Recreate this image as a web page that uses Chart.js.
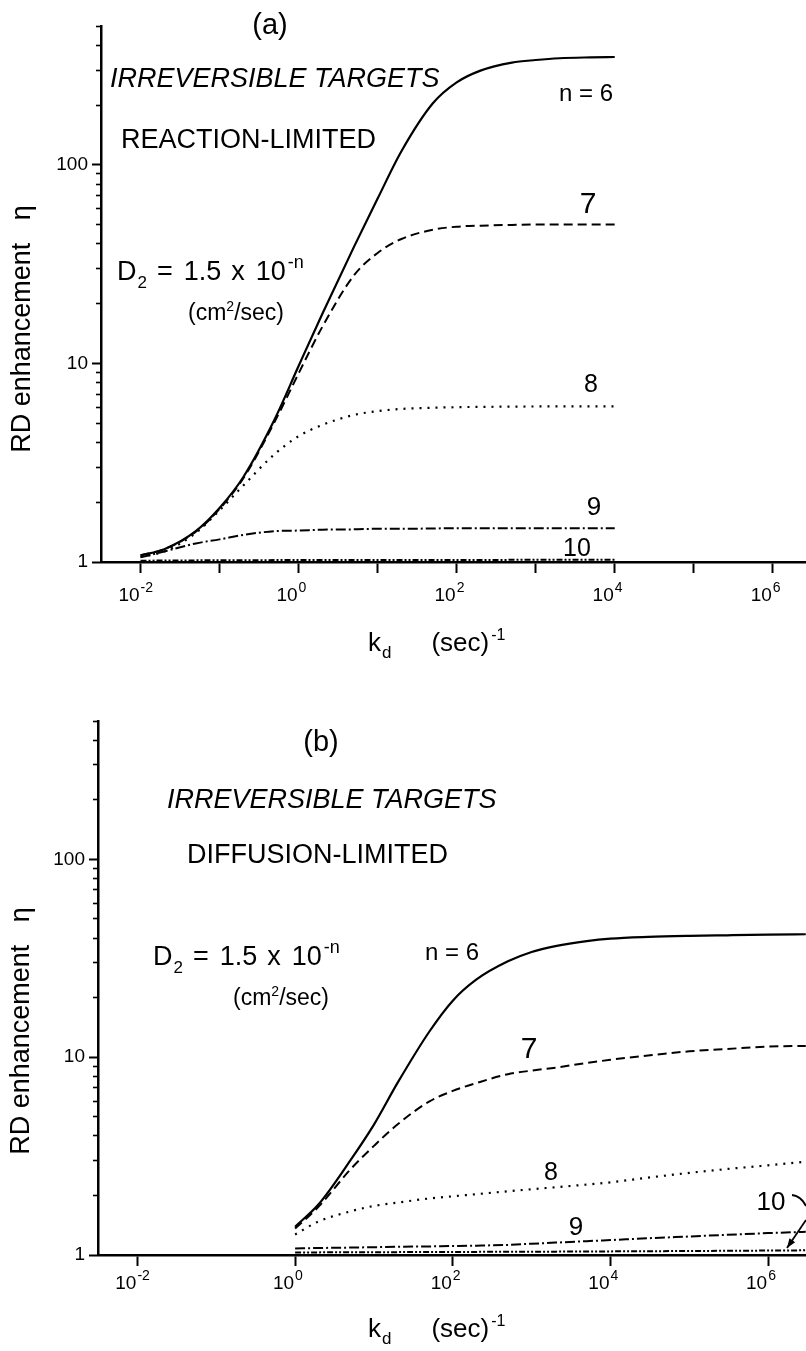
<!DOCTYPE html>
<html>
<head>
<meta charset="utf-8">
<script src="https://cdn.jsdelivr.net/npm/chart.js@4.4.1/dist/chart.umd.min.js"></script>
<style>
  html, body { margin: 0; padding: 0; background: #fff; }
  canvas { display: block; }
</style>
</head>
<body>
<canvas id="panelA" width="806" height="680"></canvas>
<canvas id="panelB" width="806" height="671"></canvas>
<script>
// (a) reaction-limited, values
const kA = [0.01, 0.02, 0.05, 0.1, 0.2, 0.5, 1, 2, 5, 10, 20, 50, 100, 200, 500, 1000, 2000, 5000, 10000];
const etaA6 = [1.08, 1.16, 1.43, 1.87, 2.68, 5.25, 9.7, 17.8, 38.5, 67.6, 117, 204, 260, 298, 327, 337, 344, 347.5, 349];
const etaA7 = [1.08, 1.16, 1.42, 1.85, 2.64, 5.1, 8.9, 15.3, 27.7, 36, 42.3, 47.1, 48.8, 49.4, 49.8, 50, 50, 50, 50];
const etaA8 = [1.06, 1.13, 1.40, 1.82, 2.43, 3.5, 4.3, 4.9, 5.5, 5.75, 5.9, 5.98, 6.02, 6.04, 6.06, 6.07, 6.08, 6.08, 6.08];
const etaA9 = [1.055, 1.13, 1.24, 1.30, 1.37, 1.43, 1.44, 1.455, 1.46, 1.47, 1.47, 1.475, 1.48, 1.48, 1.48, 1.48, 1.48, 1.48, 1.48];
const etaA10 = [1.015, 1.017, 1.019, 1.02, 1.021, 1.022, 1.022, 1.023, 1.023, 1.023, 1.024, 1.024, 1.024, 1.024, 1.025, 1.025, 1.025, 1.025, 1.025];

// (b) diffusion-limited
const kB = [1, 2, 5, 10, 20, 50, 100, 200, 500, 1000, 2000, 5000, 1e4, 3e4, 1e5, 3e5, 1e6, 3e6];
const etaB6 = [1.39, 1.81, 3.0, 4.56, 7.43, 13.4, 19.3, 24.7, 30.5, 34.0, 36.4, 38.6, 39.7, 40.5, 41.0, 41.3, 41.6, 41.8];
const etaB7 = [1.36, 1.76, 2.7, 3.56, 4.58, 5.96, 6.75, 7.4, 8.2, 8.55, 8.85, 9.34, 9.7, 10.2, 10.7, 11.0, 11.3, 11.4];
const etaB8 = [1.27, 1.48, 1.66, 1.77, 1.84, 1.93, 1.98, 2.03, 2.1, 2.15, 2.2, 2.27, 2.33, 2.46, 2.6, 2.72, 2.84, 2.96];
const etaB9 = [1.08, 1.085, 1.09, 1.095, 1.10, 1.105, 1.11, 1.115, 1.125, 1.14, 1.155, 1.175, 1.19, 1.215, 1.24, 1.265, 1.29, 1.31];
const etaB10 = [1.03, 1.031, 1.032, 1.033, 1.034, 1.035, 1.036, 1.037, 1.038, 1.039, 1.04, 1.042, 1.043, 1.045, 1.048, 1.05, 1.053, 1.056];

// ticks
const xTicksA = [1e-2, 1e-1, 1, 1e1, 1e2, 1e3, 1e4, 1e5, 1e6];
const xTicksB = [1e-2, 1, 1e2, 1e4, 1e6];
const xLabelTicks = [1e-2, 1, 1e2, 1e4, 1e6];
const yMajorTicks = [1, 10, 100];
const yMinorTicks = [2, 3, 4, 5, 6, 7, 8, 9, 20, 30, 40, 50, 60, 70, 80, 90, 200, 300, 400, 500];

const FONT = '"Liberation Sans", Arial, Helvetica, sans-serif';

const lineStyle = {
    6: { dash: [], width: 2.2 },
    7: { dash: [9, 5], width: 2 },
    8: { dash: [2, 6], width: 2.2 },
    9: { dash: [10, 3, 2, 3], width: 2 },
    10: { dash: [6, 2, 2, 2, 2, 2], width: 2 },
};

function series(k, eta, n) {
    return {
        label: 'n = ' + n,
        data: k.map((x, i) => ({ x, y: eta[i] })),
        yAxisID: 'y',
        borderColor: '#000',
        borderWidth: lineStyle[n].width,
        borderDash: lineStyle[n].dash,
        pointRadius: 0,
        fill: false,
        cubicInterpolationMode: 'monotone',
    };
}

// text runs: text, size, dy (baseline shift), dx (gap before), style
function R(t, size, dy = 0, dx = 0, style = '') {
    return { t, size, dy, dx, style };
}
function runFont(r) { return `${r.style} ${r.size}px ${FONT}`.trim(); }

function runsWidth(ctx, runs) {
    let w = 0;
    runs.forEach(r => { ctx.font = runFont(r); w += r.dx + ctx.measureText(r.t).width; });
    return w;
}

function drawRuns(ctx, x, y, runs, align) {
    const total = runsWidth(ctx, runs);
    let cx = align === 'center' ? x - total / 2 : align === 'right' ? x - total : x;
    runs.forEach(r => {
        ctx.font = runFont(r);
        cx += r.dx;
        ctx.fillText(r.t, cx, y + r.dy);
        cx += ctx.measureText(r.t).width;
    });
}

const annotPlugin = {
    id: 'annot',
    afterDraw(chart, args, opts) {
        const ctx = chart.ctx;
        ctx.save();
        ctx.fillStyle = '#000';
        ctx.strokeStyle = '#000';
        ctx.textBaseline = 'alphabetic';
        ctx.textAlign = 'left';

        // x tick labels 10^n, "10" ending at the tick, exponent raised
        const xs = chart.scales.x;
        xLabelTicks.forEach(v => {
            const px = xs.getPixelForValue(v);
            const e = String(Math.round(Math.log10(v)));
            drawRuns(ctx, px - 1, opts.xLabelY, [R('10', 19)], 'right');
            drawRuns(ctx, px, opts.xLabelY - 9, [R(e, 14)], 'left');
        });

        (opts.texts || []).forEach(t => drawRuns(ctx, t.x, t.y, t.runs, t.align));

        if (opts.yTitle) {
            ctx.save();
            ctx.translate(opts.yTitle.x, opts.yTitle.y);
            ctx.rotate(-Math.PI / 2);
            ctx.textBaseline = 'middle';
            drawRuns(ctx, 0, 0, [R('RD enhancement   \u03b7', 27)], 'center');
            ctx.restore();
        }

        if (opts.arrow) {
            const a = opts.arrow;
            ctx.lineWidth = 1.8;
            ctx.setLineDash([]);
            ctx.beginPath();
            ctx.moveTo(a.hook[0], a.hook[1]);
            ctx.quadraticCurveTo(a.hook[2], a.hook[3], a.hook[4], a.hook[5]);
            ctx.stroke();
            const [x0, y0, x1, y1] = a.line;
            ctx.beginPath();
            ctx.moveTo(x0, y0);
            ctx.lineTo(x1, y1);
            ctx.stroke();
            const ang = Math.atan2(y1 - y0, x1 - x0);
            ctx.beginPath();
            ctx.moveTo(x1, y1);
            ctx.lineTo(x1 - 10 * Math.cos(ang - 0.35), y1 - 10 * Math.sin(ang - 0.35));
            ctx.lineTo(x1 - 10 * Math.cos(ang + 0.35), y1 - 10 * Math.sin(ang + 0.35));
            ctx.closePath();
            ctx.fill();
        }
        ctx.restore();
    }
};

function scalesFor(p) {
    return {
        x: {
            type: 'logarithmic',
            min: p.xMin,
            max: p.xMax,
            afterBuildTicks: s => { s.ticks = p.xTicks.map(v => ({ value: v })); },
            afterFit: s => { s.height = p.xAxisHeight; },
            ticks: { display: false, autoSkip: false },
            grid: { drawOnChartArea: false, tickLength: 11, tickWidth: 2, tickColor: '#000', color: '#000' },
            border: { color: '#000', width: 2.5 },
        },
        y: {
            type: 'logarithmic',
            min: 1,
            max: 500,
            position: 'left',
            afterBuildTicks: s => { s.ticks = yMajorTicks.map(v => ({ value: v })); },
            afterFit: s => { s.width = p.yAxisWidth; },
            ticks: {
                autoSkip: false, padding: 4, color: '#000',
                font: { family: FONT, size: 19 },
                callback: v => String(v),
            },
            grid: { drawOnChartArea: false, tickLength: 9, tickWidth: 2, tickColor: '#000', color: '#000' },
            border: { color: '#000', width: 2.5 },
        },
        yMinor: {
            axis: 'y',
            type: 'logarithmic',
            min: 1,
            max: 500,
            position: { x: p.xMin },
            afterBuildTicks: s => { s.ticks = yMinorTicks.map(v => ({ value: v })); },
            ticks: { display: false },
            grid: { drawOnChartArea: false, tickLength: 5, tickWidth: 1.6, tickColor: '#000', color: '#000' },
            border: { display: false },
        },
    };
}

function makePanel(id, p) {
    return new Chart(document.getElementById(id), {
        type: 'line',
        data: { datasets: p.datasets },
        options: {
            responsive: false,
            animation: false,
            devicePixelRatio: 1,
            layout: { padding: { top: p.top, left: 0, right: 0, bottom: 0 } },
            scales: scalesFor(p),
            plugins: {
                legend: { display: false },
                tooltip: { enabled: false },
                annot: p.annot,
            },
        },
        plugins: [annotPlugin],
    });
}

const d2Runs = [R('D', 27), R('2', 17, 8, 1), R('=', 27, 0, 10), R('1.5', 27, 0, 11), R('x', 27, 0, 10), R('10', 27, 0, 11), R('-n', 18, -12, 2)];
const unitRuns = [R('(cm', 23), R('2', 14, -9), R('/sec)', 23)];
const xTitleRuns = [R('k', 26), R('d', 17, 7, 1), R('(sec)', 26, 0, 40), R('-1', 16, -11, 2)];

makePanel('panelA', {
    top: 26, yAxisWidth: 101, xAxisHeight: 118,
    xMin: Math.pow(10, -2.5), xMax: Math.pow(10, 6.42), xTicks: xTicksA,
    datasets: [series(kA, etaA6, 6), series(kA, etaA7, 7), series(kA, etaA8, 8), series(kA, etaA9, 9), series(kA, etaA10, 10)],
    annot: {
        xLabelY: 601,
        texts: [
            { x: 270, y: 34, align: 'center', runs: [R('(a)', 29)] },
            { x: 110, y: 87, runs: [R('IRREVERSIBLE TARGETS', 27, 0, 0, 'italic')] },
            { x: 121, y: 148, runs: [R('REACTION-LIMITED', 27)] },
            { x: 117, y: 280, runs: d2Runs },
            { x: 236, y: 320, align: 'center', runs: unitRuns },
            { x: 613, y: 101, align: 'right', runs: [R('n = 6', 24)] },
            { x: 588, y: 213, align: 'center', runs: [R('7', 30)] },
            { x: 591, y: 392, align: 'center', runs: [R('8', 25)] },
            { x: 594, y: 515, align: 'center', runs: [R('9', 26)] },
            { x: 577, y: 556, align: 'center', runs: [R('10', 25)] },
            { x: 368, y: 651, runs: xTitleRuns },
        ],
        yTitle: { x: 23, y: 329 },
    },
});

makePanel('panelB', {
    top: 41, yAxisWidth: 98, xAxisHeight: 96,
    xMin: Math.pow(10, -2.5), xMax: Math.pow(10, 6.48), xTicks: xTicksB,
    datasets: [series(kB, etaB6, 6), series(kB, etaB7, 7), series(kB, etaB8, 8), series(kB, etaB9, 9), series(kB, etaB10, 10)],
    annot: {
        xLabelY: 609,
        texts: [
            { x: 321, y: 71, align: 'center', runs: [R('(b)', 29)] },
            { x: 167, y: 128, runs: [R('IRREVERSIBLE TARGETS', 27, 0, 0, 'italic')] },
            { x: 187, y: 183, runs: [R('DIFFUSION-LIMITED', 27)] },
            { x: 153, y: 285, runs: d2Runs },
            { x: 281, y: 325, align: 'center', runs: unitRuns },
            { x: 452, y: 280, align: 'center', runs: [R('n = 6', 24)] },
            { x: 529, y: 378, align: 'center', runs: [R('7', 30)] },
            { x: 551, y: 500, align: 'center', runs: [R('8', 25)] },
            { x: 576, y: 555, align: 'center', runs: [R('9', 26)] },
            { x: 771, y: 530, align: 'center', runs: [R('10', 26)] },
            { x: 368, y: 657, runs: xTitleRuns },
        ],
        yTitle: { x: 22, y: 351 },
        arrow: { hook: [792, 515, 801, 516, 806, 526], line: [806, 540, 787, 568] },
    },
});
</script>
</body>
</html>
